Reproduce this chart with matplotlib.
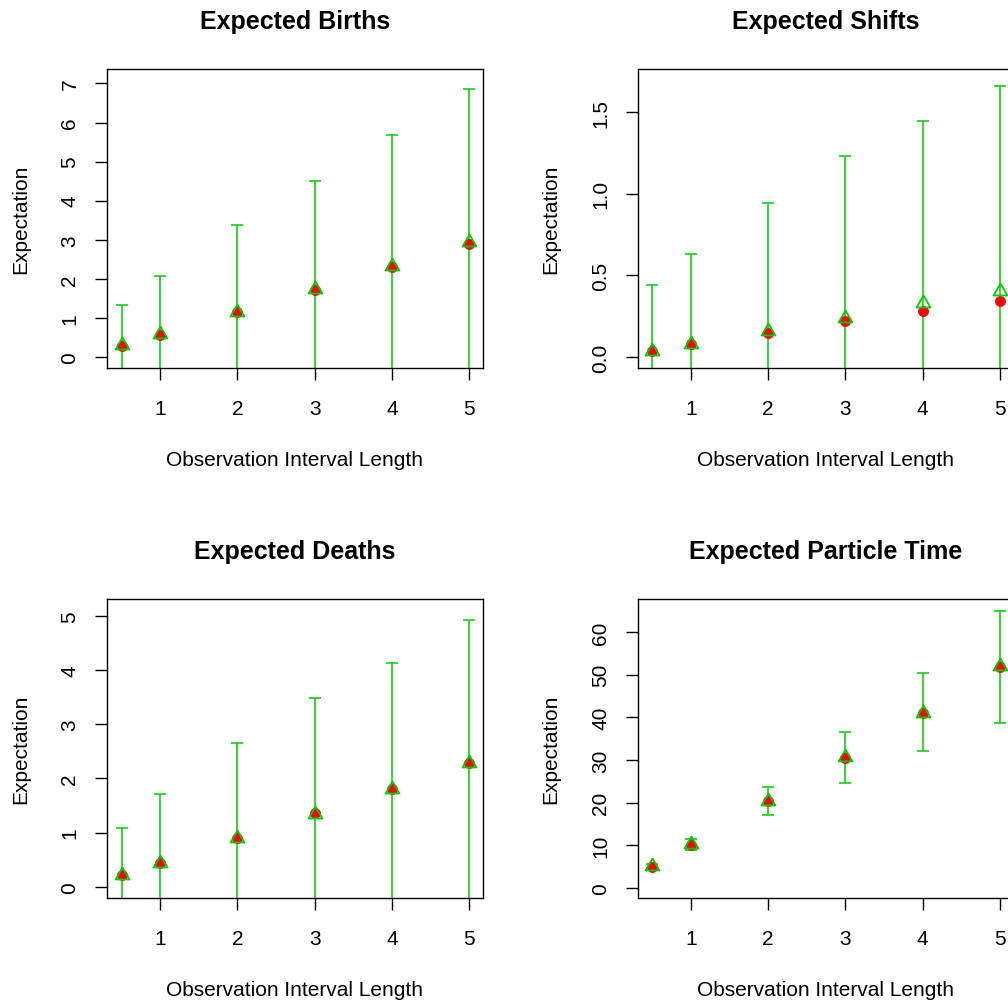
import numpy as np
import matplotlib
matplotlib.use("Agg")
import matplotlib.pyplot as plt

plt.rcParams['font.family'] = ['Liberation Sans', 'DejaVu Sans']

# interval lengths
x = [0.5, 1, 2, 3, 4, 5]

# expected births
births_pt = [0.29, 0.57, 1.15, 1.72, 2.30, 2.90]
births_tri = [0.30, 0.58, 1.16, 1.74, 2.32, 2.93]
births_hi = [1.33, 2.07, 3.39, 4.51, 5.68, 6.86]
births_lo = [-0.73, -0.91, -1.07, -1.03, -1.04, -1.00]

# expected shifts
shifts_pt = [0.037, 0.08, 0.15, 0.219, 0.282, 0.344]
shifts_tri = [0.037, 0.08, 0.158, 0.239, 0.329, 0.405]
shifts_hi = [0.44, 0.63, 0.945, 1.229, 1.448, 1.663]
shifts_lo = [-0.37, -0.47, -0.63, -0.75, -0.79, -0.85]

# expected deaths
deaths_pt = [0.22, 0.44, 0.89, 1.36, 1.81, 2.29]
deaths_tri = [0.21, 0.44, 0.89, 1.35, 1.80, 2.28]
deaths_hi = [1.09, 1.72, 2.66, 3.49, 4.13, 4.93]
deaths_lo = [-0.67, -0.84, -0.88, -0.79, -0.53, -0.37]

# expected particle time
ptime_pt = [5.0, 10.2, 20.3, 30.5, 41.0, 51.7]
ptime_tri = [5.1, 10.3, 20.4, 30.6, 41.1, 51.9]
ptime_hi = [5.6, 11.5, 23.6, 36.6, 50.3, 64.8]
ptime_lo = [4.6, 9.0, 17.1, 24.7, 32.0, 38.7]

green = '#00CD00'
# R style open triangle, centred on its centroid
tri = [(0, 1), (0.866, -0.5), (-0.866, -0.5), (0, 1)]

panels = [
    ("Expected Births", births_pt, births_tri, births_lo, births_hi,
     (-0.29, 7.37), [0, 1, 2, 3, 4, 5, 6, 7], None),
    ("Expected Shifts", shifts_pt, shifts_tri, shifts_lo, shifts_hi,
     (-0.069, 1.765), [0.0, 0.5, 1.0, 1.5], ["0.0", "0.5", "1.0", "1.5"]),
    ("Expected Deaths", deaths_pt, deaths_tri, deaths_lo, deaths_hi,
     (-0.214, 5.31), [0, 1, 2, 3, 4, 5], None),
    ("Expected Particle Time", ptime_pt, ptime_tri, ptime_lo, ptime_hi,
     (-2.4, 67.7), [0, 10, 20, 30, 40, 50, 60], None),
]

W, H = 1008, 1004
fig = plt.figure(figsize=(W / 100, H / 100), dpi=100)

# axes boxes in pixels: left, top
boxes = [(107, 70), (637.7, 70), (107, 600), (637.7, 600)]
bw, bh = 376, 299.3

for (title, pt, tr, lo, hi, ylim, yt, ytl), (bx, by) in zip(panels, boxes):
    ax = fig.add_axes([bx / W, 1 - (by + bh) / H, bw / W, bh / H])
    tr_a = np.array(tr)
    ax.errorbar(x, tr, yerr=[tr_a - np.array(lo), np.array(hi) - tr_a],
                fmt='none', ecolor=green, elinewidth=1.1, capsize=4.4,
                capthick=1.1, zorder=2)
    ax.plot(x, pt, 'o', color='red', ms=7.2, mew=0.6, zorder=3)
    ax.plot(x, tr, linestyle='none', marker=tri, ms=11.5, mfc='none',
            mec=green, mew=1.3, zorder=4)
    ax.set_xlim(0.31, 5.18)
    ax.set_ylim(*ylim)
    ax.set_xticks([1, 2, 3, 4, 5])
    if ytl is None:
        ytl = [str(v) for v in yt]
    ax.set_yticks(yt, ytl, rotation=90, va='center')
    ax.tick_params(direction='out', length=8.3, width=1, labelsize=15)
    ax.tick_params(axis='x', pad=14)
    ax.tick_params(axis='y', pad=11.5)
    for s in ax.spines.values():
        s.set_linewidth(1)
    ax.set_title(title, fontsize=18, fontweight='bold', pad=29.5)
    ax.set_xlabel("Observation Interval Length", fontsize=15)
    ax.set_ylabel("Expectation", fontsize=15)
    ax.xaxis.set_label_coords(0.5, -0.272)
    ax.yaxis.set_label_coords(-0.205, 0.5)

fig.savefig("out.png", dpi=100)
